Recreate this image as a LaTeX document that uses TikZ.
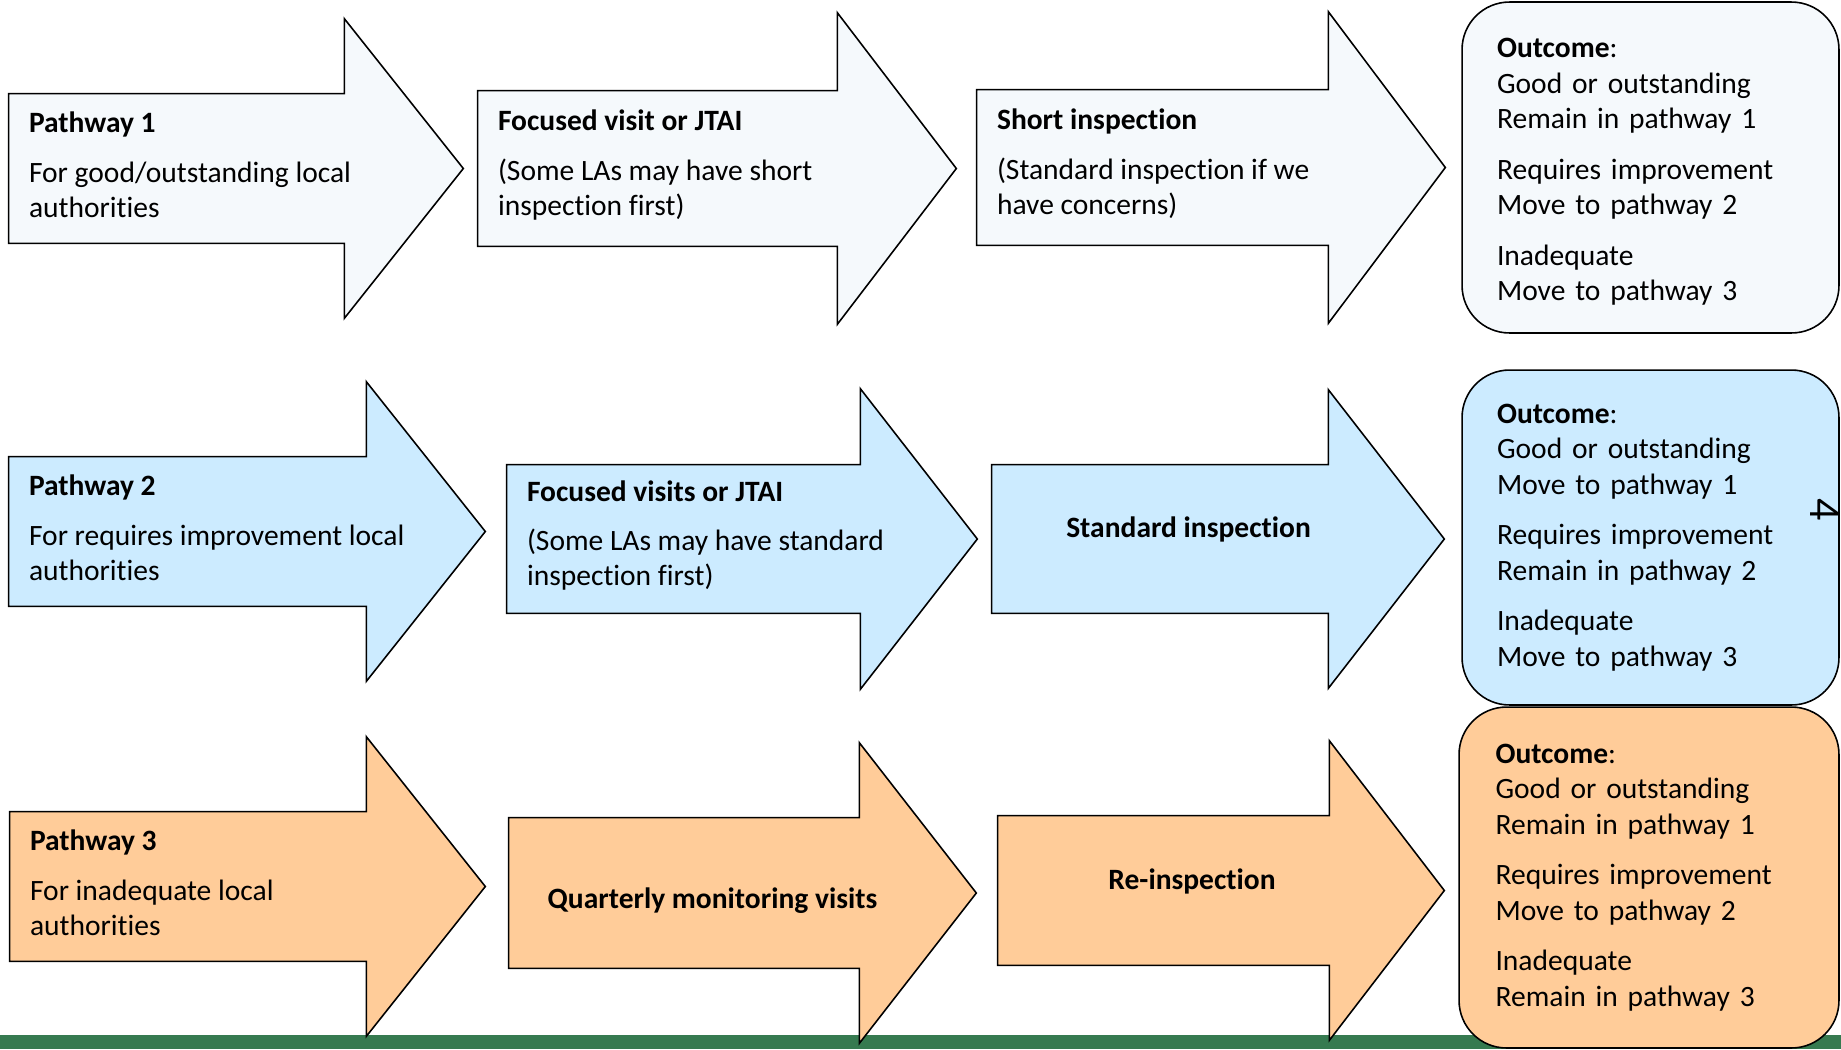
\documentclass[tikz,border=0pt]{standalone}
\usepackage{fontspec}
\setmainfont{Carlito}[Ligatures=NoCommon]
\usetikzlibrary{positioning,calc,backgrounds}

\definecolor{rowone}{HTML}{F5F9FC}
\definecolor{rowtwo}{HTML}{CCEBFF}
\definecolor{rowthree}{HTML}{FFCC99}
\definecolor{footgreen}{HTML}{367A50}

\tikzset{
  shaft/.style={rectangle, inner sep=0pt},
  pwtext/.style={align=left, inner sep=0pt, yshift=0.07cm, font=\fontsize{16.8}{19.9}\selectfont},
  midtext/.style={inner sep=0pt, font=\fontsize{16.8}{19.9}\selectfont\bfseries},
  outcome/.style={rectangle, draw, line width=0.9pt, rounded corners=0.95cm, minimum width=7.54cm, text width=6.14cm, inner xsep=0.7cm, align=left, font=\fontsize{16.8}{20.2}\selectfont},
}

% outline of a block arrow round its shaft node: node, colour, head overhang, head length
\newcommand{\shaftarrow}[4]{%
  \begin{scope}[on background layer]
    \draw[fill=#2, line width=0.9pt] (#1.north west) -- (#1.north east) -- ++(0,-#3) -- ($(#1.east)+(#4,0)$) -- ($(#1.south east)+(0,#3)$) -- (#1.south east) -- (#1.south west) -- cycle;
  \end{scope}}

\begin{document}
\begin{tikzpicture}[x=0.02cm, y=-0.02cm]
\useasboundingbox (0,0) rectangle (1841,1049);
\begin{scope}[on background layer]
  \fill[white] (0,0) rectangle (1841,1049);
  \fill[footgreen] (0,1035) rectangle (1841,1049);
\end{scope}

% pathway 1
\node[shaft, minimum width=6.70cm, minimum height=2.98cm] (a11) at (176.5,168.5) {};
\node[shaft, minimum width=7.18cm, minimum height=3.10cm] (a12) at (657.5,168.5) {};
\node[shaft, minimum width=7.02cm, minimum height=3.10cm] (a13) at (1152.5,167.5) {};
\shaftarrow{a11}{rowone}{75}{119}
\shaftarrow{a12}{rowone}{78}{119}
\shaftarrow{a13}{rowone}{78}{117}
\node[pwtext, right=0.4cm of a11.west] (p1) {\textbf{Pathway 1}\\[0.3cm]For good/outstanding local\\authorities};
\node[pwtext, right=0.4cm of a12.west] (fv1) {\textbf{Focused visit or JTAI}\\[0.3cm](Some LAs may have short\\inspection first)};
\node[pwtext, right=0.4cm of a13.west] (si1) {\textbf{Short inspection}\\[0.3cm](Standard inspection if we\\have concerns)};
\node[outcome, fill=rowone, minimum height=6.62cm] (o1) at (1650.5,167.5) {\rule{0pt}{16pt}\textbf{Outcome}:\\Good or outstanding\\Remain in pathway 1\\[0.3cm]Requires improvement\\Move to pathway 2\\[0.3cm]Inadequate\\Move to pathway 3};

% pathway 2
\node[shaft, minimum width=7.14cm, minimum height=2.98cm] (a21) at (187.5,531.5) {};
\node[shaft, minimum width=7.06cm, minimum height=2.96cm] (a22) at (683.5,539) {};
\node[shaft, minimum width=6.72cm, minimum height=2.96cm] (a23) at (1160,539) {};
\shaftarrow{a21}{rowtwo}{75}{119}
\shaftarrow{a22}{rowtwo}{76}{117}
\shaftarrow{a23}{rowtwo}{75}{116}
\node[pwtext, right=0.4cm of a21.west] (p2) {\textbf{Pathway 2}\\[0.3cm]For requires improvement local\\authorities};
\node[pwtext, right=0.4cm of a22.west] (fv2) {\textbf{Focused visits or JTAI}\\[0.3cm](Some LAs may have standard\\inspection first)};
\node[midtext] (std) at ([xshift=0.57cm, yshift=0.2cm]a23.center) {Standard inspection};
\node[outcome, fill=rowtwo, minimum height=6.70cm] (o2) at (1650.5,537.5) {\textbf{Outcome}:\\Good or outstanding\\Move to pathway 1\\[0.3cm]Requires improvement\\Remain in pathway 2\\[0.3cm]Inadequate\\Move to pathway 3};
\node[inner sep=0pt, rotate=-90, font=\fontsize{25}{30}\selectfont] (pagenum) at (1825,510) {4};

% pathway 3
\node[shaft, minimum width=7.12cm, minimum height=2.98cm] (a31) at (188,886.5) {};
\node[shaft, minimum width=7.00cm, minimum height=3.00cm] (a32) at (684,893) {};
\node[shaft, minimum width=6.62cm, minimum height=2.98cm] (a33) at (1163.5,890.5) {};
\shaftarrow{a31}{rowthree}{75}{119}
\shaftarrow{a32}{rowthree}{75}{117}
\shaftarrow{a33}{rowthree}{75}{115}
\node[pwtext, right=0.4cm of a31.west] (p3) {\textbf{Pathway 3}\\[0.3cm]For inadequate local\\authorities};
\node[midtext] (qmv) at ([xshift=0.57cm, yshift=-0.15cm]a32.center) {Quarterly monitoring visits};
\node[midtext] (reinsp) at ([xshift=0.57cm, yshift=0.19cm]a33.center) {Re-inspection};
\node[outcome, fill=rowthree, minimum width=7.60cm, minimum height=6.82cm] (o3) at (1649,877.5) {\textbf{Outcome}:\\Good or outstanding\\Remain in pathway 1\\[0.3cm]Requires improvement\\Move to pathway 2\\[0.3cm]Inadequate\\Remain in pathway 3};
\end{tikzpicture}
\end{document}
